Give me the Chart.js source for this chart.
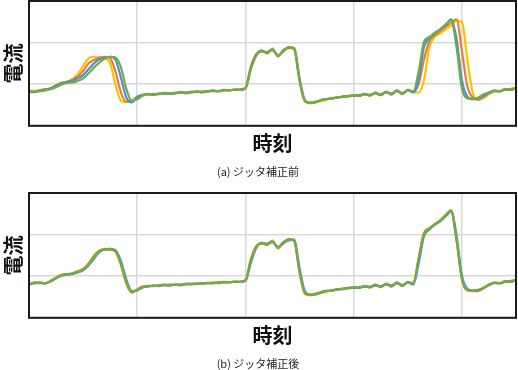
<!DOCTYPE html>
<html>
<head>
  <meta charset="utf-8">
  <title>ジッタ補正</title>
  <script src="https://cdn.jsdelivr.net/npm/chart.js"></script>
  <style>
    body { margin: 0; background: #fff; }
    canvas { display: block; }
  </style>
</head>
<body>
  <canvas id="chartA" width="518" height="192"></canvas>
  <canvas id="chartB" width="518" height="178"></canvas>

  <script>
    // 時刻 (サンプル位置)
    const t = [
      0, 5, 10, 15, 20, 25, 30, 35, 40, 45,
      50, 55, 60, 65, 70, 75, 80, 85, 90, 95,
      100, 105, 110, 115, 120, 125, 130, 135, 140, 145,
      150, 155, 160, 165, 170, 175, 180, 185, 190, 195,
      200, 205, 210, 215, 220, 225, 230, 235, 240, 245,
      250, 255, 260, 265, 270, 275, 280, 285, 290, 295,
      300, 305, 310, 315, 320, 325, 330, 335, 340, 345,
      350, 355, 360, 365, 370, 375, 380, 385, 390, 395,
      400, 405, 410, 415, 420, 425, 430, 435, 440, 445,
      450
    ];

    // (a) ジッタ補正前
    const blueA = [
      0.82, 0.81, 0.84, 0.86, 0.90, 0.96, 1.02, 1.06, 1.08, 1.14,
      1.22, 1.36, 1.50, 1.60, 1.64, 1.66, 1.58, 1.15, 0.68, 0.56,
      0.70, 0.74, 0.76, 0.75, 0.77, 0.78, 0.77, 0.79, 0.80, 0.79,
      0.81, 0.82, 0.81, 0.83, 0.84, 0.83, 0.86, 0.85, 0.87, 0.86,
      0.90, 1.38, 1.70, 1.80, 1.76, 1.84, 1.68, 1.80, 1.88, 1.86,
      1.12, 0.60, 0.55, 0.57, 0.62, 0.64, 0.66, 0.68, 0.70, 0.71,
      0.73, 0.72, 0.76, 0.73, 0.79, 0.74, 0.81, 0.76, 0.84, 0.77,
      0.86, 0.80, 1.10, 1.90, 2.10, 2.22, 2.32, 2.42, 2.56, 2.10,
      1.10, 0.70, 0.64, 0.66, 0.72, 0.80, 0.84, 0.82, 0.88, 0.86,
      0.90
    ];
    const orangeA = [
      0.84, 0.82, 0.85, 0.88, 0.89, 0.97, 1.03, 1.05, 1.10, 1.18,
      1.32, 1.50, 1.58, 1.64, 1.66, 1.62, 1.30, 0.80, 0.58, 0.58,
      0.68, 0.73, 0.77, 0.74, 0.78, 0.77, 0.78, 0.78, 0.81, 0.78,
      0.80, 0.83, 0.80, 0.84, 0.83, 0.84, 0.85, 0.86, 0.86, 0.88,
      0.91, 1.42, 1.72, 1.78, 1.78, 1.82, 1.70, 1.78, 1.90, 1.84,
      1.08, 0.58, 0.56, 0.58, 0.61, 0.65, 0.65, 0.69, 0.69, 0.72,
      0.72, 0.74, 0.75, 0.75, 0.78, 0.76, 0.80, 0.78, 0.83, 0.79,
      0.85, 0.82, 1.00, 1.60, 2.04, 2.18, 2.28, 2.38, 2.48, 2.56,
      1.80, 0.95, 0.68, 0.63, 0.70, 0.78, 0.85, 0.83, 0.87, 0.88,
      0.91
    ];
    const yellowA = [
      0.84, 0.84, 0.86, 0.88, 0.90, 0.98, 1.04, 1.06, 1.12, 1.24,
      1.44, 1.62, 1.66, 1.64, 1.62, 1.50, 0.98, 0.60, 0.57, 0.62,
      0.70, 0.75, 0.75, 0.77, 0.76, 0.79, 0.77, 0.80, 0.79, 0.81,
      0.80, 0.82, 0.82, 0.83, 0.85, 0.82, 0.87, 0.84, 0.88, 0.87,
      0.89, 1.36, 1.68, 1.82, 1.74, 1.86, 1.66, 1.82, 1.86, 1.88,
      1.16, 0.62, 0.54, 0.58, 0.60, 0.63, 0.67, 0.67, 0.71, 0.70,
      0.74, 0.71, 0.77, 0.72, 0.80, 0.73, 0.82, 0.75, 0.85, 0.76,
      0.87, 0.81, 0.80, 1.10, 1.90, 2.14, 2.22, 2.32, 2.40, 2.52,
      2.50, 1.60, 0.80, 0.62, 0.66, 0.76, 0.82, 0.84, 0.86, 0.89,
      0.90
    ];
    const greenA = [
      0.80, 0.82, 0.83, 0.85, 0.88, 0.93, 0.99, 1.03, 1.04, 1.08,
      1.14, 1.26, 1.40, 1.52, 1.62, 1.66, 1.64, 1.40, 0.88, 0.60,
      0.64, 0.72, 0.76, 0.76, 0.76, 0.79, 0.78, 0.78, 0.80, 0.80,
      0.82, 0.81, 0.82, 0.82, 0.85, 0.83, 0.85, 0.86, 0.86, 0.87,
      0.90, 1.40, 1.72, 1.80, 1.74, 1.84, 1.68, 1.82, 1.88, 1.86,
      1.10, 0.59, 0.55, 0.57, 0.62, 0.64, 0.66, 0.68, 0.70, 0.71,
      0.73, 0.72, 0.77, 0.73, 0.80, 0.74, 0.82, 0.75, 0.85, 0.76,
      0.86, 0.82, 1.30, 2.02, 2.14, 2.24, 2.32, 2.44, 2.54, 1.90,
      0.90, 0.66, 0.64, 0.68, 0.76, 0.80, 0.84, 0.83, 0.88, 0.86,
      0.91
    ];

    // (b) ジッタ補正後
    const blueB = [
      0.79, 0.85, 0.83, 0.83, 0.87, 0.95, 1.01, 1.05, 1.05, 1.09,
      1.14, 1.26, 1.42, 1.58, 1.64, 1.66, 1.62, 1.36, 0.92, 0.64,
      0.66, 0.73, 0.77, 0.76, 0.78, 0.78, 0.79, 0.79, 0.80, 0.80,
      0.81, 0.82, 0.82, 0.84, 0.83, 0.85, 0.85, 0.86, 0.86, 0.87,
      0.89, 1.32, 1.68, 1.80, 1.78, 1.82, 1.70, 1.80, 1.86, 1.88,
      1.20, 0.64, 0.56, 0.56, 0.61, 0.65, 0.65, 0.69, 0.69, 0.72,
      0.72, 0.73, 0.75, 0.74, 0.78, 0.75, 0.80, 0.77, 0.83, 0.78,
      0.85, 0.80, 1.30, 1.96, 2.12, 2.24, 2.32, 2.44, 2.56, 2.00,
      1.02, 0.70, 0.65, 0.67, 0.71, 0.80, 0.83, 0.83, 0.87, 0.87,
      0.90
    ];
    const orangeB = [
      0.81, 0.83, 0.85, 0.82, 0.89, 0.96, 1.03, 1.04, 1.07, 1.11,
      1.17, 1.30, 1.48, 1.61, 1.64, 1.64, 1.60, 1.28, 0.82, 0.61,
      0.68, 0.75, 0.75, 0.78, 0.76, 0.80, 0.77, 0.80, 0.78, 0.82,
      0.81, 0.82, 0.82, 0.84, 0.83, 0.85, 0.85, 0.86, 0.86, 0.86,
      0.91, 1.40, 1.72, 1.78, 1.78, 1.84, 1.70, 1.78, 1.90, 1.84,
      1.10, 0.58, 0.55, 0.58, 0.61, 0.65, 0.65, 0.69, 0.69, 0.72,
      0.72, 0.74, 0.75, 0.75, 0.78, 0.76, 0.80, 0.78, 0.83, 0.79,
      0.85, 0.84, 1.42, 2.04, 2.14, 2.26, 2.34, 2.46, 2.58, 1.88,
      0.94, 0.66, 0.65, 0.64, 0.72, 0.78, 0.85, 0.83, 0.87, 0.88,
      0.91
    ];
    const yellowB = [
      0.82, 0.84, 0.85, 0.83, 0.89, 0.97, 1.04, 1.05, 1.07, 1.12,
      1.18, 1.30, 1.50, 1.62, 1.66, 1.64, 1.58, 1.26, 0.82, 0.60,
      0.69, 0.75, 0.76, 0.77, 0.76, 0.79, 0.77, 0.80, 0.78, 0.81,
      0.80, 0.82, 0.82, 0.83, 0.85, 0.82, 0.87, 0.84, 0.88, 0.87,
      0.89, 1.42, 1.72, 1.80, 1.74, 1.86, 1.66, 1.82, 1.88, 1.86,
      1.08, 0.57, 0.54, 0.58, 0.60, 0.63, 0.67, 0.67, 0.71, 0.70,
      0.74, 0.71, 0.77, 0.72, 0.80, 0.73, 0.82, 0.75, 0.85, 0.76,
      0.87, 0.81, 1.42, 2.04, 2.16, 2.24, 2.34, 2.48, 2.58, 1.86,
      0.92, 0.66, 0.64, 0.66, 0.73, 0.78, 0.84, 0.84, 0.86, 0.89,
      0.90
    ];
    const greenB = [
      0.80, 0.83, 0.84, 0.83, 0.88, 0.95, 1.02, 1.03, 1.06, 1.10,
      1.16, 1.28, 1.46, 1.60, 1.64, 1.66, 1.61, 1.30, 0.86, 0.62,
      0.67, 0.74, 0.76, 0.77, 0.78, 0.79, 0.79, 0.79, 0.80, 0.81,
      0.82, 0.81, 0.83, 0.83, 0.84, 0.84, 0.86, 0.85, 0.87, 0.86,
      0.90, 1.38, 1.70, 1.80, 1.76, 1.84, 1.68, 1.82, 1.88, 1.86,
      1.12, 0.60, 0.55, 0.57, 0.62, 0.64, 0.66, 0.68, 0.70, 0.71,
      0.73, 0.72, 0.77, 0.73, 0.80, 0.74, 0.82, 0.75, 0.85, 0.76,
      0.86, 0.82, 1.40, 2.02, 2.14, 2.24, 2.34, 2.46, 2.56, 1.90,
      0.95, 0.68, 0.66, 0.66, 0.72, 0.80, 0.84, 0.83, 0.88, 0.86,
      0.91
    ];

    const colors = { blue: '#4a8fdb', orange: '#ed7d31', yellow: '#ffc000', green: '#70ad47' };

    Chart.defaults.font.family = '"Noto Sans CJK JP", "Noto Sans", sans-serif';
    Chart.defaults.color = '#111';

    // プロット領域の枠線
    const frame = {
      id: 'frame',
      afterDatasetsDraw(chart) {
        const { ctx, chartArea: a } = chart;
        ctx.save();
        ctx.strokeStyle = '#1a1a1a';
        ctx.lineWidth = 2;
        ctx.strokeRect(a.left, a.top, a.width, a.height);
        ctx.restore();
      }
    };

    function line(data, color) {
      return {
        data: data,
        borderColor: color,
        borderWidth: 2.2,
        pointRadius: 0,
        cubicInterpolationMode: 'monotone',
        fill: false
      };
    }

    function drawChart(id, series, caption, padBottom) {
      const ctx = document.getElementById(id).getContext('2d');
      return new Chart(ctx, {
        type: 'line',
        data: {
          labels: t,
          // 先頭のデータセットが一番上に描かれる
          datasets: [
            line(series.green, colors.green),
            line(series.blue, colors.blue),
            line(series.orange, colors.orange),
            line(series.yellow, colors.yellow)
          ]
        },
        options: {
          responsive: false,
          animation: false,
          layout: { padding: { top: 1, right: 2, left: 0, bottom: padBottom } },
          scales: {
            x: {
              type: 'linear',
              min: 0,
              max: 450,
              ticks: { display: false, stepSize: 100 },
              grid: { color: '#d9d9d9', lineWidth: 1.5, drawTicks: false },
              border: { display: false },
              title: {
                display: true,
                text: '時刻',
                font: { size: 20, weight: 'bold' },
                padding: { top: 6, bottom: 0 }
              }
            },
            y: {
              min: 0,
              max: 3,
              ticks: { display: false, stepSize: 1 },
              grid: { color: '#d9d9d9', lineWidth: 1.5, drawTicks: false },
              border: { display: false },
              title: {
                display: true,
                text: '電流',
                font: { size: 20, weight: 'bold' },
                padding: { top: 1, bottom: 4 }
              }
            }
          },
          plugins: {
            legend: { display: false },
            tooltip: { enabled: false },
            title: {
              display: true,
              position: 'bottom',
              text: caption,
              color: '#222',
              font: { size: 11, weight: 'normal' },
              padding: { top: 9, bottom: 0 }
            }
          }
        },
        plugins: [frame]
      });
    }

    drawChart('chartA', { blue: blueA, orange: orangeA, yellow: yellowA, green: greenA }, '(a) ジッタ補正前', 14);
    drawChart('chartB', { blue: blueB, orange: orangeB, yellow: yellowB, green: greenB }, '(b) ジッタ補正後', 0);
  </script>
</body>
</html>
